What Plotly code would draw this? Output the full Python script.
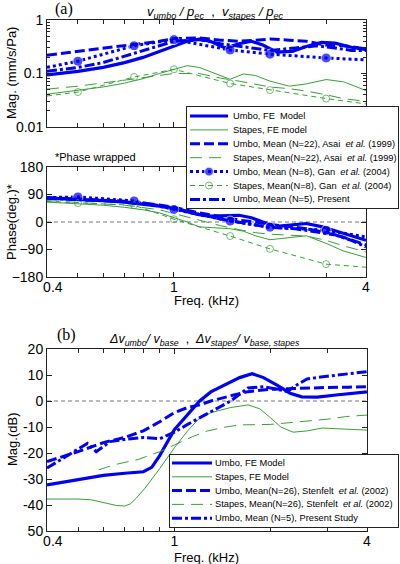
import math
import plotly.graph_objects as go

W, H = 400, 564

# ---------------- Panel (a) data ----------------
f_umbo_fe = [0.4, 0.5, 0.6, 0.7, 0.8, 0.9, 1.0, 1.1, 1.2, 1.3, 1.45, 1.6, 1.75, 1.9, 2.1, 2.35, 2.6, 2.9, 3.2, 3.6, 4.0]
umbo_fe_mag = [0.094, 0.11, 0.13, 0.16, 0.2, 0.26, 0.33, 0.40, 0.44, 0.40, 0.30, 0.36, 0.40, 0.34, 0.25, 0.26, 0.32, 0.38, 0.37, 0.31, 0.28]
umbo_fe_ph = [78, 74, 70, 65, 59, 52, 44, 33, 24, 19, 20, 22, 14, 0, -14, -10, -5, -15, -28, -45, -60]

f_stapes_fe = [0.4, 0.5, 0.6, 0.7, 0.8, 0.9, 1.0, 1.1, 1.2, 1.35, 1.5, 1.65, 1.8, 2.0, 2.3, 2.6, 3.0, 3.4, 4.0]
stapes_fe_mag = [0.041, 0.048, 0.056, 0.066, 0.08, 0.1, 0.12, 0.14, 0.13, 0.1, 0.078, 0.098, 0.092, 0.072, 0.058, 0.064, 0.077, 0.07, 0.048]
stapes_fe_ph = [65, 60, 55, 48, 40, 30, 15, 0, -16, -18, -22, -30, -45, -58, -50, -45, -70, -95, -116]

f_asai = [0.4, 0.5, 0.7, 0.9, 1.0, 1.2, 1.4, 1.6, 1.8, 2.0, 2.3, 2.6, 3.0, 3.4, 4.0]
umbo_asai_mag = [0.22, 0.26, 0.33, 0.40, 0.45, 0.46, 0.42, 0.40, 0.42, 0.44, 0.42, 0.40, 0.34, 0.33, 0.29]
umbo_asai_ph = [80, 76, 68, 56, 48, 30, 16, 6, 0, -8, -15, -22, -35, -50, -75]
stapes_asai_mag = [0.051, 0.058, 0.075, 0.09, 0.1, 0.1, 0.082, 0.072, 0.062, 0.056, 0.052, 0.047, 0.04, 0.034, 0.03]
stapes_asai_ph = [70, 64, 55, 40, 28, 5, -12, -25, -35, -40, -43, -46, -60, -78, -98]

f_gan = [0.4, 0.5, 0.75, 1.0, 1.5, 2.0, 3.0, 4.0]
umbo_gan_mag = [0.13, 0.17, 0.33, 0.43, 0.275, 0.23, 0.195, 0.18]
umbo_gan_ph = [80, 82, 69, 41, 3, -17, -27, -49]
stapes_gan_mag = [0.038, 0.045, 0.086, 0.12, 0.065, 0.049, 0.034, 0.027]
stapes_gan_ph = [67, 62, 55, 9, -46, -88, -138, -148]

f_present = [0.4, 0.5, 0.6, 0.7, 0.8, 0.9, 1.0, 1.2, 1.4, 1.7, 2.0, 2.4, 2.8, 3.2, 3.6, 4.0]
umbo_present_mag = [0.11, 0.13, 0.16, 0.21, 0.26, 0.33, 0.40, 0.43, 0.36, 0.31, 0.27, 0.30, 0.33, 0.30, 0.27, 0.27]
umbo_present_ph = [78, 74, 70, 66, 60, 54, 46, 25, 10, -5, -18, -22, -32, -42, -60, -82]

# ---------------- Panel (b) data ----------------
f_b_umbo_fe = [0.4, 0.5, 0.6, 0.7, 0.8, 0.85, 0.9, 1.0, 1.1, 1.2, 1.3, 1.45, 1.6, 1.75, 1.9, 2.1, 2.3, 2.5, 2.8, 3.2, 3.6, 4.0]
b_umbo_fe = [-32.3, -30.3, -28.6, -27.8, -27.2, -25.5, -21, -11, -5, 0, 3.5, 6.5, 9, 10.5, 9, 6, 3, 1.6, 1.5, 2.3, 3, 3.5]

f_b_stapes_fe = [0.4, 0.5, 0.55, 0.6, 0.66, 0.7, 0.73, 0.76, 0.81, 0.9, 1.0, 1.1, 1.2, 1.3, 1.5, 1.7, 1.85, 2.0, 2.15, 2.35, 2.6, 2.9, 3.3, 4.0]
b_stapes_fe = [-37.7, -37.7, -38, -39, -40.2, -40.4, -39.5, -37.4, -33.5, -26, -18, -11.5, -6.5, -4.5, -2.5, -1.5, -3, -6.5, -10, -12, -11.5, -10.4, -10.8, -11.2]

f_b_umbo_sten = [0.4, 0.5, 0.6, 0.7, 0.8, 0.9, 1.0, 1.1, 1.2, 1.3, 1.5, 1.7, 2.0, 2.5, 3.0, 3.5, 4.0]
b_umbo_sten = [-23.3, -19.5, -16, -14, -11.5, -8, -4.5, -2.5, -1.5, 0, 2, 3.6, 4.5, 5, 5.2, 5.3, 5.5]

f_b_stapes_sten = [0.58, 0.65, 0.77, 0.85, 0.9, 1.0, 1.14, 1.27, 1.45, 1.6, 2.0, 2.56, 3.0, 3.43, 4.0]
b_stapes_sten = [-26.5, -24.5, -22.5, -20.5, -19.5, -16.9, -13.7, -11.5, -10, -9.2, -9, -7.8, -7, -6, -5.4]

f_b_present = [0.4, 0.45, 0.5, 0.535, 0.555, 0.57, 0.6, 0.63, 0.7, 0.8, 0.9, 1.0, 1.1, 1.2, 1.3, 1.5, 1.7, 1.9, 2.1, 2.25, 2.4, 2.6, 3.0, 3.5, 4.0]
b_umbo_present = [-25.8, -22, -18.5, -16.3, -18, -19.5, -17.5, -15.6, -14.8, -14, -14.5, -12, -9, -6.5, -4.3, 0, 5, 5.5, 4.5, 3.6, 6, 8.5, 9.5, 10.5, 11.3]

# ---------------- ticks ----------------
x_major = [0.4, 1, 4]
x_major_text = ["\u00a0\u00a0\u00a00.4", "1", "4"]
x_minor = [0.5, 0.6, 0.7, 0.8, 0.9, 2, 3]
mag_major = [0.01, 0.1, 1]
mag_major_text = ["0.01", "0.1", "1"]
mag_minor = [0.02, 0.03, 0.04, 0.05, 0.06, 0.07, 0.08, 0.09, 0.2, 0.3, 0.4, 0.5, 0.6, 0.7, 0.8, 0.9]
phase_ticks = [-180, -90, 0, 90, 180]
db_ticks = [-50, -40, -30, -20, -10, 0, 10, 20]
db_ticktext = ["50", "-40", "-30", "-20", "-10", "0", "10", "20"]

BLUE = "#0000f0"
GREEN = "#3a9e3a"
FONT = "Arial, Liberation Sans, sans-serif"
LFONT = "Arial, Liberation Sans, sans-serif"
SERIF = "Liberation Serif, Times New Roman, serif"
LSIZE = 9.3

D_SOLID = "solid"
D_DASH = "10px,4px"
D_LONG = "12px,7px"
D_DOT = "3px,3px"
D_SHORT = "5px,4px"
D_DASHDOT = "10px,3px,3px,3px"


def px(x):
    return x / W


def py(y):
    return 1 - y / H


fig = go.Figure()


def add(x, y, xa, ya, color, width, dash, mode="lines", marker=None):
    kw = dict(x=x, y=y, mode=mode, xaxis=xa, yaxis=ya, showlegend=False, hoverinfo="skip",
              line=dict(color=color, width=width, dash=dash))
    if marker is not None:
        kw["marker"] = marker
    fig.add_trace(go.Scatter(**kw))


ital = "<i>et al.</i>"
names_a = [
    "Umbo, FE  Model",
    "Stapes, FE model",
    "Umbo, Mean (N=22), Asai  " + ital + " (1999)",
    "Stapes, Mean(N=22), Asai  " + ital + " (1999)",
    "Umbo, Mean (N=8), Gan  " + ital + " (2004)",
    "Stapes, Mean(N=8), Gan  " + ital + " (2004)",
    "Umbo, Mean (N=5), Present",
]
names_b = [
    "Umbo, FE Model",
    "Stapes, FE Model",
    "Umbo, Mean(N=26), Stenfelt  " + ital + " (2002)",
    "Stapes, Mean(N=26), Stenfelt  " + ital + " (2002)",
    "Umbo, Mean (N=5), Present Study",
]

gan_big = [0, 10, 10, 10, 10, 10, 10, 0]
gan_small = [0, 7, 7, 7, 7, 7, 7, 0]

# styles: (color, width, dash, marker kind)
sty_a = [
    (BLUE, 3.2, D_SOLID, None),
    (GREEN, 1, D_SOLID, None),
    (BLUE, 3, D_DASH, None),
    (GREEN, 1, D_LONG, None),
    (BLUE, 3, D_DOT, "big"),
    (GREEN, 1, D_SHORT, "small"),
    (BLUE, 3, D_DASHDOT, None),
]
sty_b = [
    (BLUE, 3.2, D_SOLID, None),
    (GREEN, 1, D_SOLID, None),
    (BLUE, 3, D_DASH, None),
    (GREEN, 1, D_LONG, None),
    (BLUE, 3, D_DASHDOT, None),
]


def marker_for(kind, sizes):
    if kind == "big":
        return dict(size=sizes, color=BLUE, symbol="circle")
    if kind == "small":
        return dict(size=sizes, color=GREEN, symbol="circle-open", line=dict(width=1, color=GREEN))
    return None


series_mag = [(f_umbo_fe, umbo_fe_mag), (f_stapes_fe, stapes_fe_mag), (f_asai, umbo_asai_mag),
              (f_asai, stapes_asai_mag), (f_gan, umbo_gan_mag), (f_gan, stapes_gan_mag),
              (f_present, umbo_present_mag)]
series_ph = [(f_umbo_fe, umbo_fe_ph), (f_stapes_fe, stapes_fe_ph), (f_asai, umbo_asai_ph),
             (f_asai, stapes_asai_ph), (f_gan, umbo_gan_ph), (f_gan, stapes_gan_ph),
             (f_present, umbo_present_ph)]

for series, xa, ya in [(series_mag, "x", "y"), (series_ph, "x2", "y2")]:
    for (fx, fy), (c, w, d, mk) in zip(series, sty_a):
        sizes = gan_big if mk == "big" else gan_small
        add(fx, fy, xa, ya, c, w, d, mode="lines+markers" if mk else "lines", marker=marker_for(mk, sizes))

series_b = [(f_b_umbo_fe, b_umbo_fe), (f_b_stapes_fe, b_stapes_fe), (f_b_umbo_sten, b_umbo_sten),
            (f_b_stapes_sten, b_stapes_sten), (f_b_present, b_umbo_present)]
for (fx, fy), (c, w, d, mk) in zip(series_b, sty_b):
    add(fx, fy, "x3", "y3", c, w, d)

# ---------------- legends as inset boxes ----------------
leg_a = dict(box=(187, 107, 398, 208), row0=9.0, step=13.9, sx0=3, sx1=41, tx=44)
leg_b = dict(box=(170, 455, 398, 527), row0=8.0, step=13.8, sx0=2, sx1=42, tx=43)


def build_legend(cfg, names, styles, xa, ya):
    l, t, r, b = cfg["box"]
    wbox, hbox = r - l, b - t
    fig.add_trace(go.Scatter(x=[0, wbox, wbox, 0, 0], y=[0, 0, hbox, hbox, 0], mode="lines",
                             fill="toself", fillcolor="white", line=dict(width=0, color="white"),
                             xaxis=xa, yaxis=ya, showlegend=False, hoverinfo="skip"))
    for i, (name, (c, w, d, mk)) in enumerate(zip(names, styles)):
        yy = cfg["row0"] + cfg["step"] * i
        xs = [cfg["sx0"], (cfg["sx0"] + cfg["sx1"]) / 2, cfg["sx1"]]
        sz = [0, 9 if mk == "big" else 7, 0]
        fig.add_trace(go.Scatter(x=xs, y=[yy] * 3, mode="lines+markers" if mk else "lines",
                                 line=dict(color=c, width=w, dash=d), marker=marker_for(mk, sz),
                                 xaxis=xa, yaxis=ya, showlegend=False, hoverinfo="skip"))
        fig.add_annotation(x=cfg["tx"], y=yy, xref=xa, yref=ya, text=name, showarrow=False,
                           xanchor="left", yanchor="middle",
                           font=dict(family=LFONT, size=LSIZE, color="black"))
    return dict(domain=[px(l), px(r)]), dict(domain=[py(b), py(t)]), wbox, hbox


axis_common = dict(showgrid=False, zeroline=False, showline=True, linecolor="#222", linewidth=1,
                   mirror="allticks", ticks="inside", ticklen=5, tickcolor="#222",
                   tickfont=dict(family=FONT, size=14, color="black"))
xr = [math.log10(0.4), math.log10(4)]
xminor = dict(tickvals=x_minor, ticks="inside", ticklen=4, tickcolor="#222")

fig.update_layout(
    width=W, height=H,
    margin=dict(l=0, r=0, t=0, b=0, autoexpand=False),
    paper_bgcolor="white", plot_bgcolor="white",
    font=dict(family=FONT, size=12, color="black"),
    showlegend=False,
    xaxis=dict(axis_common, type="log", range=xr, tickvals=x_major, showticklabels=False,
               minor=xminor, domain=[px(47), px(366)], anchor="y"),
    yaxis=dict(axis_common, type="log", range=[-2, 0], tickvals=mag_major, ticktext=mag_major_text,
               minor=dict(tickvals=mag_minor, ticks="inside", ticklen=3, tickcolor="#222"),
               domain=[py(127), py(20)], anchor="x"),
    xaxis2=dict(axis_common, type="log", range=xr, tickvals=x_major, ticktext=x_major_text,
                ticklabelstandoff=-3, minor=xminor, domain=[px(47), px(366)], anchor="y2"),
    yaxis2=dict(axis_common, range=[-180, 180], tickvals=phase_ticks,
                domain=[py(277), py(167)], anchor="x2"),
    xaxis3=dict(axis_common, type="log", range=xr, tickvals=x_major, ticktext=x_major_text,
                ticklabelstandoff=-3, minor=xminor, domain=[px(47), px(367)], anchor="y3"),
    yaxis3=dict(axis_common, range=[-50, 20], tickvals=db_ticks, ticktext=db_ticktext,
                domain=[py(531), py(349)], anchor="x3"),
)

inset_axis = dict(showgrid=False, zeroline=False, showline=True, linecolor="#222", linewidth=1,
                  mirror=True, ticks="", showticklabels=False, fixedrange=True)
xa4, ya4, w4, h4 = build_legend(leg_a, names_a, sty_a, "x4", "y4")
xa5, ya5, w5, h5 = build_legend(leg_b, names_b, sty_b, "x5", "y5")
fig.update_layout(
    xaxis4=dict(inset_axis, range=[0, w4], anchor="y4", **xa4),
    yaxis4=dict(inset_axis, range=[h4, 0], anchor="x4", **ya4),
    xaxis5=dict(inset_axis, range=[0, w5], anchor="y5", **xa5),
    yaxis5=dict(inset_axis, range=[h5, 0], anchor="x5", **ya5),
)

# zero reference lines
for xref, yref in [("x2 domain", "y2"), ("x3 domain", "y3")]:
    fig.add_shape(type="line", xref=xref, yref=yref, x0=0, x1=1, y0=0, y1=0,
                  line=dict(color="#777", width=1, dash="4px,3px"), layer="below")

ann = []
ann.append(dict(x=px(64), y=py(9), text="(a)", font=dict(family=SERIF, size=16)))
ann.append(dict(x=px(215), y=py(12),
                text="<i>v</i><sub><i>umbo</i></sub><i> / p</i><sub><i>ec</i></sub>  ,  <i>v</i><sub><i>stapes</i></sub><i> / p</i><sub><i>ec</i></sub>",
                font=dict(family=FONT, size=13)))
ann.append(dict(x=px(12), y=py(73), text="Mag. (mm/s/Pa)", textangle=-90, font=dict(family=FONT, size=13)))
ann.append(dict(x=px(95), y=py(157), text="*Phase wrapped", font=dict(family=FONT, size=11)))
ann.append(dict(x=px(12), y=py(222), text="Phase(deg.)*", textangle=-90, font=dict(family=FONT, size=13)))
ann.append(dict(x=px(207), y=py(300), text="Freq. (kHz)", font=dict(family=FONT, size=13)))
ann.append(dict(x=px(66), y=py(335), text="(b)", font=dict(family=SERIF, size=16)))
ann.append(dict(x=px(205), y=py(340),
                text="<i>\u0394v</i><sub><i>umbo</i></sub><i>/ v</i><sub><i>base</i></sub>  ,  <i>\u0394v</i><sub><i>stapes</i></sub><i>/ v</i><sub><i>base, stapes</i></sub>",
                font=dict(family=FONT, size=12.5)))
ann.append(dict(x=px(12), y=py(440), text="Mag.(dB)", textangle=-90, font=dict(family=FONT, size=13)))
ann.append(dict(x=px(207), y=py(557), text="Freq. (kHz)", font=dict(family=FONT, size=13)))
for a in ann:
    a.update(xref="paper", yref="paper", showarrow=False, xanchor="center", yanchor="middle")
    fig.add_annotation(**a)

fig.write_html("out.html", config={"displayModeBar": False},
               post_script="document.body.style.margin='0px';")
